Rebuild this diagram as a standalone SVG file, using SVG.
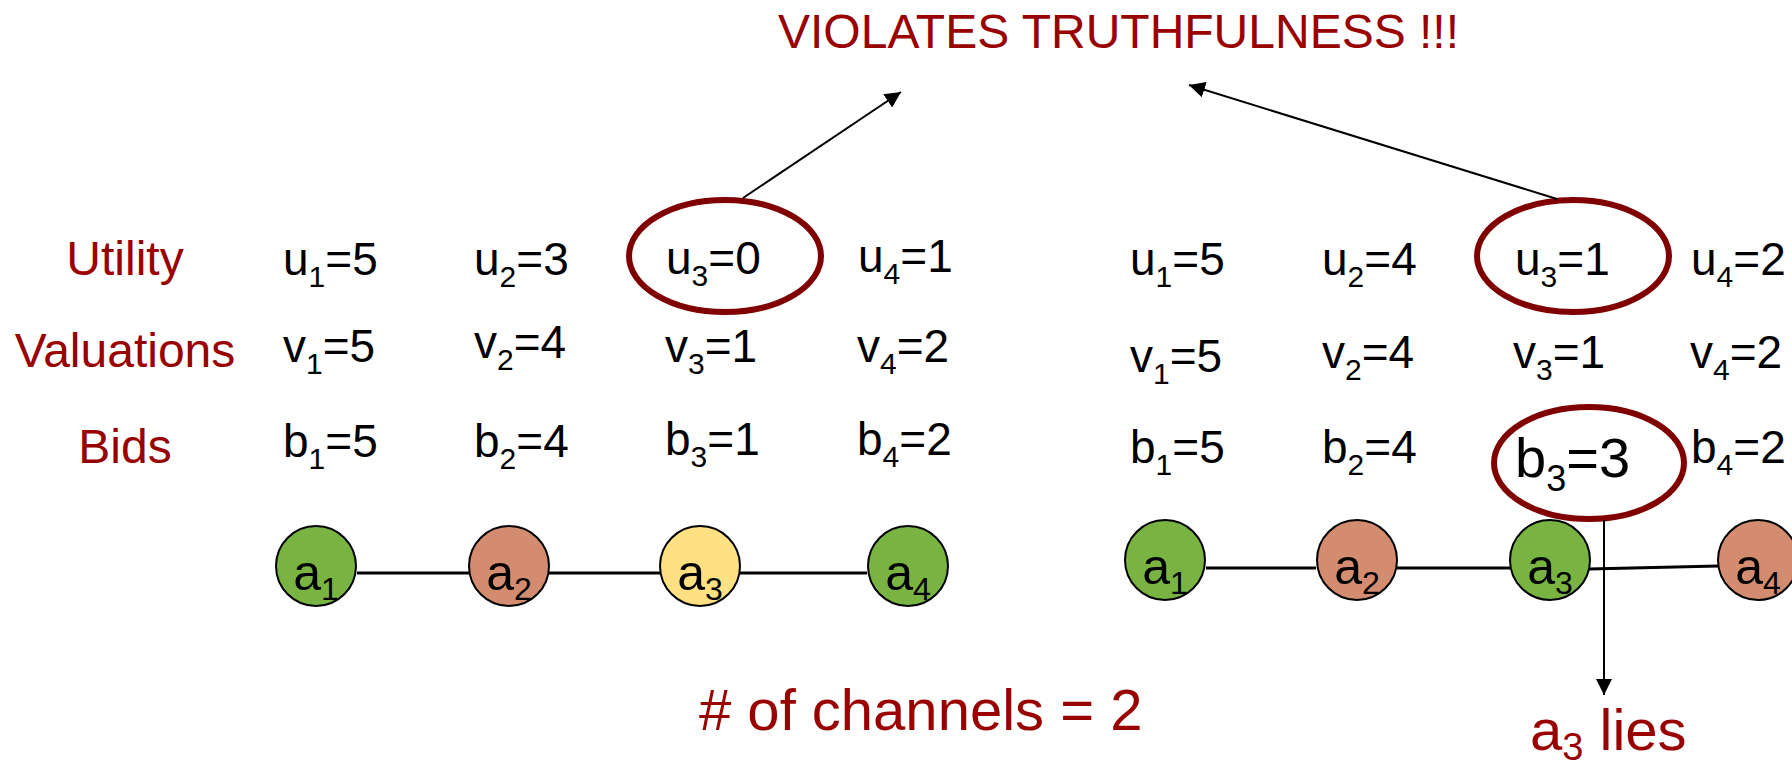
<svg xmlns="http://www.w3.org/2000/svg" width="1792" height="768" viewBox="0 0 1792 768">
<defs>
<marker id="arr" viewBox="0 0 10 10" refX="10" refY="5" markerUnits="userSpaceOnUse" markerWidth="16" markerHeight="16" orient="auto">
<path d="M0,0 L10,5 L0,10 z" fill="#000"/>
</marker>
<style>
text{font-family:"Liberation Sans",Arial,sans-serif;}
.lbl{fill:#990000;font-size:48px;text-anchor:middle;}
.val{fill:#000;font-size:46px;}
.red{fill:#990000;}
.node text{font-size:50px;fill:#000;text-anchor:middle;}
.g{fill:#79b443;stroke:#000;stroke-width:2;}
.s{fill:#d38c70;stroke:#000;stroke-width:2;}
.y{fill:#ffe083;stroke:#000;stroke-width:2;}
.ring{fill:none;stroke:#800000;stroke-width:6;}
.edge{stroke:#000;stroke-width:3;fill:none;}
.arrow{stroke:#000;stroke-width:2;fill:none;marker-end:url(#arr);}
</style>
</defs>
<rect width="1792" height="768" fill="#fff"/>

<g id="title"><text class="red" x="778" y="48" font-size="48">VIOLATES TRUTHFULNESS !!!</text></g>

<g id="labels">
<text class="lbl" x="125" y="275">Utility</text>
<text class="lbl" x="125" y="367">Valuations</text>
<text class="lbl" x="125" y="463">Bids</text>
</g>

<g id="edges">
<line class="edge" x1="357" y1="573" x2="469" y2="573"/>
<line class="edge" x1="549" y1="573" x2="660" y2="573"/>
<line class="edge" x1="740" y1="573" x2="867" y2="573"/>
<line class="edge" x1="1206" y1="568" x2="1316" y2="568"/>
<line class="edge" x1="1397" y1="568" x2="1510" y2="568"/>
<line class="edge" x1="1589" y1="569" x2="1718" y2="566"/>
</g>

<g id="left-values" class="val">
<text x="283" y="275">u<tspan dy="12" font-size="30">1</tspan><tspan dy="-12">=5</tspan></text>
<text x="474" y="275">u<tspan dy="12" font-size="30">2</tspan><tspan dy="-12">=3</tspan></text>
<text x="666" y="274">u<tspan dy="12" font-size="30">3</tspan><tspan dy="-12">=0</tspan></text>
<text x="858" y="272">u<tspan dy="12" font-size="30">4</tspan><tspan dy="-12">=1</tspan></text>
<text x="283" y="362">v<tspan dy="12" font-size="30">1</tspan><tspan dy="-12">=5</tspan></text>
<text x="474" y="358">v<tspan dy="12" font-size="30">2</tspan><tspan dy="-12">=4</tspan></text>
<text x="665" y="362">v<tspan dy="12" font-size="30">3</tspan><tspan dy="-12">=1</tspan></text>
<text x="857" y="362">v<tspan dy="12" font-size="30">4</tspan><tspan dy="-12">=2</tspan></text>
<text x="283" y="457">b<tspan dy="12" font-size="30">1</tspan><tspan dy="-12">=5</tspan></text>
<text x="474" y="457">b<tspan dy="12" font-size="30">2</tspan><tspan dy="-12">=4</tspan></text>
<text x="665" y="455">b<tspan dy="12" font-size="30">3</tspan><tspan dy="-12">=1</tspan></text>
<text x="857" y="455">b<tspan dy="12" font-size="30">4</tspan><tspan dy="-12">=2</tspan></text>
</g>

<g id="right-values" class="val">
<text x="1130" y="275">u<tspan dy="12" font-size="30">1</tspan><tspan dy="-12">=5</tspan></text>
<text x="1322" y="275">u<tspan dy="12" font-size="30">2</tspan><tspan dy="-12">=4</tspan></text>
<text x="1515" y="275">u<tspan dy="12" font-size="30">3</tspan><tspan dy="-12">=1</tspan></text>
<text x="1691" y="275">u<tspan dy="12" font-size="30">4</tspan><tspan dy="-12">=2</tspan></text>
<text x="1130" y="372">v<tspan dy="12" font-size="30">1</tspan><tspan dy="-12">=5</tspan></text>
<text x="1322" y="368">v<tspan dy="12" font-size="30">2</tspan><tspan dy="-12">=4</tspan></text>
<text x="1513" y="368">v<tspan dy="12" font-size="30">3</tspan><tspan dy="-12">=1</tspan></text>
<text x="1690" y="368">v<tspan dy="12" font-size="30">4</tspan><tspan dy="-12">=2</tspan></text>
<text x="1130" y="463">b<tspan dy="12" font-size="30">1</tspan><tspan dy="-12">=5</tspan></text>
<text x="1322" y="463">b<tspan dy="12" font-size="30">2</tspan><tspan dy="-12">=4</tspan></text>
<text x="1515" y="477" font-size="56">b<tspan dy="14" font-size="36">3</tspan><tspan dy="-14">=3</tspan></text>
<text x="1691" y="463">b<tspan dy="12" font-size="30">4</tspan><tspan dy="-12">=2</tspan></text>
</g>

<g id="rings">
<ellipse class="ring" cx="725" cy="256" rx="96" ry="56"/>
<ellipse class="ring" cx="1573" cy="256" rx="96" ry="56"/>
<ellipse class="ring" cx="1589" cy="463" rx="95" ry="56"/>
</g>

<g id="left-a1" class="node"><circle class="g" cx="316" cy="566" r="40"/><text x="316" y="590">a<tspan dy="10" font-size="32">1</tspan></text></g>
<g id="left-a2" class="node"><circle class="s" cx="509" cy="566" r="40"/><text x="509" y="590">a<tspan dy="10" font-size="32">2</tspan></text></g>
<g id="left-a3" class="node"><circle class="y" cx="700" cy="566" r="40"/><text x="700" y="590">a<tspan dy="10" font-size="32">3</tspan></text></g>
<g id="left-a4" class="node"><circle class="g" cx="908" cy="566" r="40"/><text x="908" y="590">a<tspan dy="10" font-size="32">4</tspan></text></g>

<g id="right-a1" class="node"><circle class="g" cx="1165" cy="560" r="40"/><text x="1165" y="584">a<tspan dy="10" font-size="32">1</tspan></text></g>
<g id="right-a2" class="node"><circle class="s" cx="1357" cy="560" r="40"/><text x="1357" y="584">a<tspan dy="10" font-size="32">2</tspan></text></g>
<g id="right-a3" class="node"><circle class="g" cx="1550" cy="560" r="40"/><text x="1550" y="584">a<tspan dy="10" font-size="32">3</tspan></text></g>
<g id="right-a4" class="node"><circle class="s" cx="1758" cy="560" r="40"/><text x="1758" y="584">a<tspan dy="10" font-size="32">4</tspan></text></g>

<g id="connectors">
<line class="arrow" x1="743" y1="198" x2="901" y2="92"/>
<line class="arrow" x1="1557" y1="199" x2="1189" y2="85"/>
<line class="arrow" x1="1604" y1="520" x2="1604" y2="695"/>
</g>

<g id="channels"><text class="red" x="699" y="730" font-size="58"># of channels = 2</text></g>
<g id="lies"><text class="red" x="1530" y="750" font-size="58">a<tspan dy="10" font-size="38">3</tspan><tspan dy="-10"> lies</tspan></text></g>
</svg>
